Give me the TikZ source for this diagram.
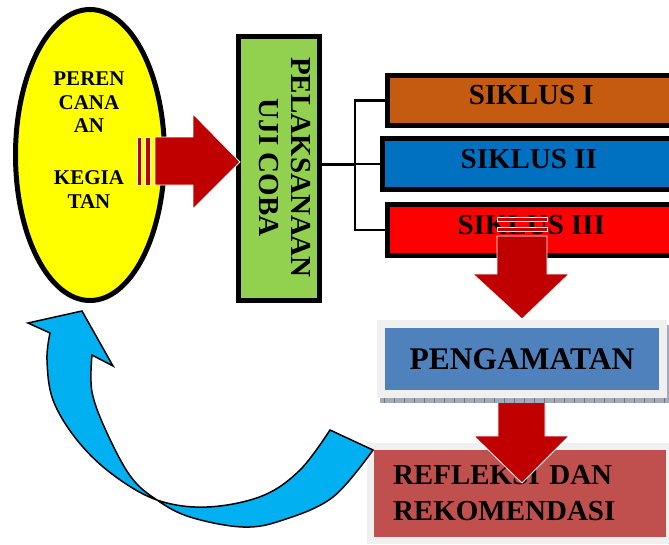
\documentclass[tikz,border=0pt]{standalone}
\usepackage{fontspec}
\setmainfont{Liberation Serif}
\usetikzlibrary{shapes.geometric}
\definecolor{ylw}{HTML}{FFFF00}
\definecolor{grn}{HTML}{92D050}
\definecolor{org}{HTML}{C55A11}
\definecolor{blu}{HTML}{0070C0}
\definecolor{rd}{HTML}{FF0000}
\definecolor{dred}{HTML}{C00000}
\definecolor{steel}{HTML}{4F81BD}
\definecolor{brick}{HTML}{C0504D}
\definecolor{cyanb}{HTML}{00B0F0}
\definecolor{framegray}{HTML}{F0F0F0}
\definecolor{stripcol}{HTML}{A4AAB8}
\definecolor{stripdark}{HTML}{6E7686}
\newcommand{\bigfont}{\fontsize{29pt}{32pt}\selectfont\bfseries}
\newcommand{\reflfont}{\fontsize{29pt}{36pt}\selectfont\bfseries}
\newcommand{\obsfont}{\fontsize{31.5pt}{34pt}\selectfont\bfseries}
\newcommand{\ellfont}{\fontsize{21pt}{23.5pt}\selectfont\bfseries}
\begin{document}
\begin{tikzpicture}[x=1pt,y=-1pt,
  blockarrow/.style={fill=dred, draw=white, line width=0.8pt, line join=miter},
  sikbox/.style={draw=black, line width=5pt, inner sep=0pt, font=\bigfont,
    text height=19pt, text depth=11pt},
  framed/.style={draw=framegray, inner sep=0pt},
  conn/.style={draw=black, line width=2.5pt}]
\useasboundingbox (0,0) rectangle (669,544);

% planning ellipse
\node[ellipse, draw=black, line width=5pt, fill=ylw, minimum width=149pt,
  minimum height=291pt, inner sep=0pt] (plan) at (90,155) {};
\node[font=\ellfont, align=center, anchor=north, inner sep=0pt] (plantext)
  at (89,72) {PEREN\\CANA\\AN\\[28.5pt]KEGIA\\TAN};

% execution box
\node[draw=black, line width=5pt, fill=grn, minimum width=81pt,
  minimum height=264pt, inner sep=0pt] (exec) at (279,168.5) {};
\node[rotate=-90, font=\bigfont, align=center, inner sep=0pt] (exectext)
  at (285,167.5) {PELAKSANAAN\\UJI COBA};

% right block arrow
\path[blockarrow] (137,137) rectangle (141,185);
\path[blockarrow] (145,137) rectangle (150,185);
\path[blockarrow] (155,137) -- (193,137) -- (193,114) -- (240,162)
  -- (193,209) -- (193,185) -- (155,185) -- cycle;

% cycle boxes
\node[sikbox, fill=org, minimum width=287.5pt, minimum height=50pt]
  (sik1) at (531.25,100.5) {SIKLUS I};
\node[sikbox, fill=blu, minimum width=292.5pt, minimum height=51pt]
  (sik2) at (528.75,164) {SIKLUS II};
\node[sikbox, fill=rd, minimum width=287.5pt, minimum height=51pt]
  (sik3) at (531.25,230) {SIKLUS III};

% connectors
\coordinate (j) at (355,164);
\draw[draw=black, line width=3pt] (exec.east |- j) -- (j);
\draw[conn] (j) |- (sik1.west);
\draw[conn] (j) |- (sik2.west);
\draw[conn] (j) |- (sik3.west);

% down arrow 1
\path[blockarrow] (497,217) rectangle (547,221);
\path[blockarrow] (497,227) rectangle (547,231);
\path[blockarrow] (497,236) -- (547,236) -- (547,274) -- (569,274)
  -- (522,319) -- (473,274) -- (497,274) -- cycle;

% observation box
\node[framed, line width=8pt, fill=steel, minimum width=282pt,
  minimum height=70pt, font=\obsfont] (obs) at (522,359) {PENGAMATAN};

% reflection box
\node[framed, line width=7pt, fill=brick, minimum width=299pt,
  minimum height=94pt, inner xsep=22.5pt, text width=254pt, align=left,
  font=\reflfont] (refl) at (520,493.5) {REFLEKSI DAN\\REKOMENDASI};

% down arrow 2
\path[blockarrow] (498,398) -- (545,398) -- (545,436) -- (569,436)
  -- (522,483) -- (474,436) -- (498,436) -- cycle;

% hatched strip under observation box
\fill[stripcol] (380,398) rectangle (669,403);
\fill[stripcol] (667,325) rectangle (669,403);
\foreach \x in {384,394,...,664} \draw[stripdark, line width=0.6pt] (\x,398) -- (\x,403);

% curved return arrow
\filldraw[fill=cyanb, draw=black, line width=1.5pt, line join=miter]
  (330,430) -- (373,450)
  -- plot[smooth, tension=0.6] coordinates {(373,450) (333,497) (283,520) (243,527)
     (190,517) (157,500) (131,477) (107,433) (92,392) (92,355)}
  -- (113,366) -- (82,311) -- (28,323) -- (50,333)
  -- plot[smooth, tension=0.6] coordinates {(50,333) (47,360) (53,400) (77,440)
     (112,474) (157,500) (207,507) (262,496) (300,470) (330,430)}
  -- cycle;
\end{tikzpicture}
\end{document}
